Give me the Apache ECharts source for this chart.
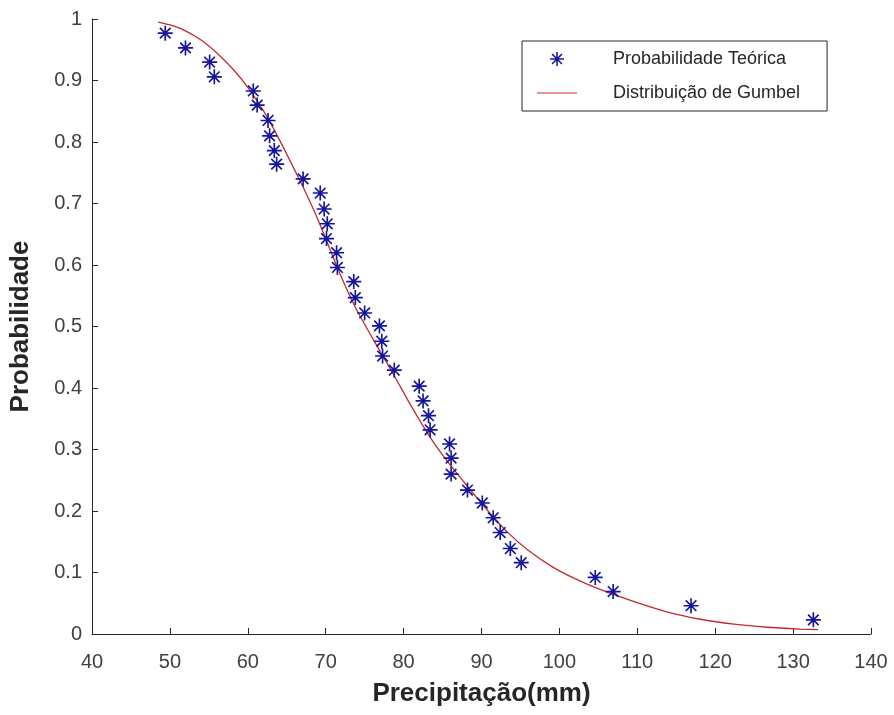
<!DOCTYPE html>
<html>
<head>
<meta charset="utf-8">
<script src="https://cdn.jsdelivr.net/npm/echarts@6/dist/echarts.min.js"></script>
<style>
  html, body { margin: 0; padding: 0; background: #fff; }
  #main { width: 894px; height: 715px; }
</style>
</head>
<body>
<div id="main"></div>
<script>
// precipitação observada (mm) e probabilidade teórica
var precip = [49.4, 52.0, 55.1, 55.7, 60.7, 61.2, 62.6, 62.8, 63.4, 63.7,
              67.1, 69.3, 69.8, 70.2, 70.1, 71.4, 71.5, 73.6, 73.8, 75.0,
              76.9, 77.2, 77.3, 78.8, 82.0, 82.5, 83.2, 83.4, 85.9, 86.1,
              86.1, 88.2, 90.1, 91.5, 92.4, 93.7, 95.1, 104.6, 106.9, 116.9, 132.6];
var probTeorica = [0.977, 0.953, 0.930, 0.906, 0.883, 0.860, 0.835, 0.810, 0.786, 0.764,
                   0.740, 0.717, 0.691, 0.667, 0.643, 0.620, 0.596, 0.573, 0.547, 0.522,
                   0.501, 0.476, 0.452, 0.429, 0.403, 0.379, 0.355, 0.332, 0.309, 0.286,
                   0.260, 0.234, 0.213, 0.189, 0.165, 0.139, 0.116, 0.092, 0.069, 0.046, 0.023];

// curva de Gumbel
var gumbelX = [48.5, 50.1, 51.8, 54.0, 56.1, 58.2, 60.0, 62.1, 63.8, 66.0,
               67.2, 68.9, 70.6, 72.3, 74.1, 76.6, 78.8, 81.0, 83.5, 85.6,
               88.2, 90.7, 93.3, 95.9, 99.0, 102.0, 105.3, 109.5, 113.8, 118.1,
               122.4, 126.6, 130.9, 133.2];
var gumbelY = [0.995, 0.990, 0.982, 0.966, 0.944, 0.917, 0.889, 0.849, 0.810, 0.755,
               0.724, 0.677, 0.624, 0.572, 0.524, 0.468, 0.420, 0.370, 0.318, 0.281,
               0.240, 0.202, 0.166, 0.137, 0.110, 0.090, 0.072, 0.053, 0.036, 0.024,
               0.016, 0.011, 0.008, 0.007];

var xTicks = [40, 50, 60, 70, 80, 90, 100, 110, 120, 130, 140];
var yTicks = [0, 0.1, 0.2, 0.3, 0.4, 0.5, 0.6, 0.7, 0.8, 0.9, 1];

// marcador '*' do matlab
var star = 'path://M0 8.9L20 8.9L20 11.1L0 11.1Z' +
           'M8.9 0L11.1 0L11.1 20L8.9 20Z' +
           'M3.71 2.15L17.85 16.29L16.29 17.85L2.15 3.71Z' +
           'M2.15 16.29L16.29 2.15L17.85 3.71L3.71 17.85Z';

var font = 'Liberation Sans, Arial, sans-serif';
var axisColor = '#262626';

var myChart = echarts.init(document.getElementById('main'));

var option = {
    backgroundColor: '#fff',
    animation: false,
    grid: { left: 91, right: 23, top: 19, bottom: 81, containLabel: false },
    legend: {
        orient: 'vertical',
        left: 522,
        top: 41,
        padding: [9, 27, 9, 15],
        itemGap: 16,
        itemWidth: 40,
        itemHeight: 14,
        borderColor: axisColor,
        borderWidth: 1,
        backgroundColor: '#fff',
        textStyle: { fontFamily: font, fontSize: 18, color: '#262626', padding: [0, 0, 0, 31] },
        data: [
            { name: 'Probabilidade Teórica', icon: star },
            { name: 'Distribuição de Gumbel', icon: 'path://M0 9.4L40 9.4L40 10.6L0 10.6Z' }
        ]
    },
    xAxis: {
        type: 'value',
        min: 40, max: 140, interval: 10,
        name: 'Precipitação(mm)',
        nameLocation: 'middle',
        nameGap: 47,
        nameTextStyle: { fontFamily: font, fontSize: 26, fontWeight: 'bold', color: axisColor },
        axisLine: { lineStyle: { color: axisColor, width: 1 } },
        axisTick: { inside: true, length: 6, lineStyle: { color: axisColor } },
        axisLabel: {
            fontFamily: font, fontSize: 20, color: '#404040', margin: 18,
            formatter: function (v) { return xTicks.indexOf(v) >= 0 ? String(v) : ''; }
        },
        splitLine: { show: false }
    },
    yAxis: {
        type: 'value',
        min: 0, max: 1, interval: 0.1,
        name: 'Probabilidade',
        nameLocation: 'middle',
        nameGap: 58,
        nameRotate: 90,
        nameTextStyle: { fontFamily: font, fontSize: 26, fontWeight: 'bold', color: axisColor },
        axisLine: { lineStyle: { color: axisColor, width: 1 } },
        axisTick: { inside: true, length: 6, lineStyle: { color: axisColor } },
        axisLabel: {
            fontFamily: font, fontSize: 20, color: '#404040', margin: 10,
            formatter: function (v) {
                var r = Math.round(v * 10) / 10;
                return yTicks.indexOf(r) >= 0 ? String(r) : '';
            }
        },
        splitLine: { show: false }
    },
    series: [
        {
            name: 'Distribuição de Gumbel',
            type: 'line',
            smooth: 0.2,
            symbol: 'none',
            lineStyle: { color: '#c42a2a', width: 1.3 },
            itemStyle: { color: '#c42a2a' },
            data: gumbelX.map(function (x, i) { return [x, gumbelY[i]]; }),
            z: 2
        },
        {
            name: 'Probabilidade Teórica',
            type: 'scatter',
            symbol: star,
            symbolSize: 15,
            itemStyle: { color: '#14149c', opacity: 1 },
            data: precip.map(function (x, i) { return [x, probTeorica[i]]; }),
            z: 3
        }
    ]
};

myChart.setOption(option);
</script>
</body>
</html>
